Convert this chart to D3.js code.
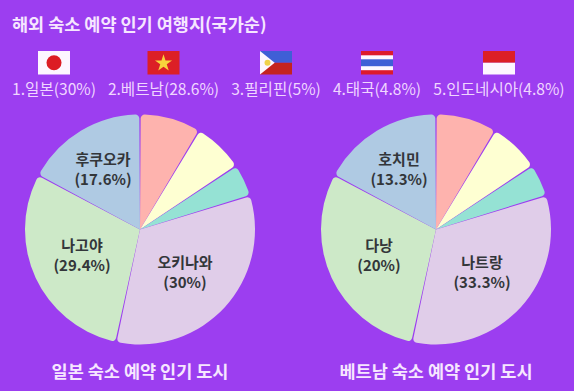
<!DOCTYPE html>
<html>
<head>
<meta charset="utf-8">
<script src="https://cdn.jsdelivr.net/npm/d3@7"></script>
<style>
  html, body { margin: 0; padding: 0; background: #9c3ef0; }
  svg { display: block; }
  text { font-family: "Noto Sans CJK KR", "Noto Sans", sans-serif; }
</style>
</head>
<body>
<svg></svg>
<script>
const titleText = "해외 숙소 예약 인기 여행지(국가순)";
const countries = ["1.일본(30%)", "2.베트남(28.6%)", "3.필리핀(5%)", "4.태국(4.8%)", "5.인도네시아(4.8%)"];
const flagIds = ["jp", "vn", "ph", "th", "id"];

// slice sizes as drawn, the original wedges do not follow their printed labels
const sliceSizes = [8.5, 7, 4.4, 33.3, 29.6, 17.2];
const sliceColors = ["#feb3ae", "#feffd2", "#95e2d4", "#e0cde9", "#cde9c8", "#afcae3"];

const japanLabels = ["", "", "", "오키나와", "나고야", "후쿠오카"];
const japanShares = ["", "", "", "(30%)", "(29.4%)", "(17.6%)"];
const vietnamLabels = ["", "", "", "나트랑", "다낭", "호치민"];
const vietnamShares = ["", "", "", "(33.3%)", "(20%)", "(13.3%)"];
const pieTitles = ["일본 숙소 예약 인기 도시", "베트남 숙소 예약 인기 도시"];

const svgWidth = 574, svgHeight = 391;
const svg = d3.select("svg").attr("width", svgWidth).attr("height", svgHeight);

svg.append("text")
  .attr("x", 12).attr("y", 31)
  .attr("fill", "#f6e6ff")
  .attr("font-size", 17.5)
  .attr("font-weight", 600)
  .text(titleText);

// legend row
const flagX = d3.scaleOrdinal().domain(flagIds).range([54, 163.5, 276, 377, 499]);
const flagW = 32, flagH = 23.5, flagY = 51;

const flags = svg.selectAll("g.flag").data(flagIds).join("g")
  .attr("class", "flag")
  .attr("transform", d => "translate(" + (flagX(d) - flagW / 2) + "," + flagY + ")");

function band(g, y, h, color) {
  g.append("rect").attr("x", 0).attr("y", y).attr("width", flagW).attr("height", h).attr("fill", color);
}

flags.each(function(id) {
  const g = d3.select(this);
  if (id === "jp") {
    band(g, 0, flagH, "#fdf6ff");
    g.append("circle").attr("cx", flagW / 2).attr("cy", flagH / 2).attr("r", 7.5).attr("fill", "#dc1c24");
  }
  if (id === "vn") {
    band(g, 0, flagH, "#dc1f26");
    const star = d3.symbol().type(d3.symbolStar).size(90);
    g.append("path").attr("d", star())
      .attr("transform", "translate(" + flagW / 2 + "," + (flagH / 2 + 0.5) + ")")
      .attr("fill", "#f7d33c");
  }
  if (id === "ph") {
    band(g, 0, flagH / 2, "#3f5fd6");
    band(g, flagH / 2, flagH / 2, "#c4231f");
    g.append("path").attr("d", d3.line()([[0, 0], [flagW * 0.46, flagH / 2], [0, flagH]])).attr("fill", "#fdf6ff");
    g.append("circle").attr("cx", 7.5).attr("cy", flagH / 2).attr("r", 3).attr("fill", "#f0d24a");
  }
  if (id === "th") {
    band(g, 0, flagH, "#dd1a2c");
    band(g, 4.3, flagH - 8.6, "#fdf6ff");
    band(g, 8.3, flagH - 16.6, "#3f5fd6");
  }
  if (id === "id") {
    band(g, 0, flagH / 2, "#dc1f26");
    band(g, flagH / 2, flagH / 2, "#fdf6ff");
  }
});

svg.selectAll("text.country").data(countries).join("text")
  .attr("class", "country")
  .attr("x", (d, i) => flagX(flagIds[i]))
  .attr("y", 95)
  .attr("text-anchor", "middle")
  .attr("fill", "#f0d6ff")
  .attr("font-size", 15.6)
  .text(d => d);

// pies
const pie = d3.pie().sort(null).padAngle(0.012);
const radius = 115;
const arc = d3.arc().innerRadius(0).outerRadius(radius).cornerRadius(4);

function drawPie(cx, labels, shares, title, offsets) {
  const g = svg.append("g").attr("transform", "translate(" + cx + ",229.5)");
  const arcs = pie(sliceSizes);

  g.selectAll("path").data(arcs).join("path")
    .attr("d", arc)
    .attr("fill", (d, i) => sliceColors[i]);

  arcs.forEach((d, i) => {
    if (!labels[i]) return;
    const t = g.append("text")
      .attr("text-anchor", "middle")
      .attr("fill", "#33363a")
      .attr("font-size", 15)
      .attr("font-weight", 600);
    t.append("tspan").attr("x", offsets[i][0]).attr("y", offsets[i][1]).text(labels[i]);
    t.append("tspan").attr("x", offsets[i][0]).attr("y", offsets[i][1] + 20.5).text(shares[i]);
  });

  g.append("text")
    .attr("x", 0).attr("y", 148.5)
    .attr("text-anchor", "middle")
    .attr("fill", "#f6e6ff")
    .attr("font-size", 17.5)
    .attr("font-weight", 600)
    .text(title);
}

drawPie(140, japanLabels, japanShares, pieTitles[0], [null, null, null, [45, 38], [-58, 21], [-37, -65]]);
drawPie(436, vietnamLabels, vietnamShares, pieTitles[1], [null, null, null, [46, 38], [-57, 21], [-37, -65]]);
</script>
</body>
</html>
